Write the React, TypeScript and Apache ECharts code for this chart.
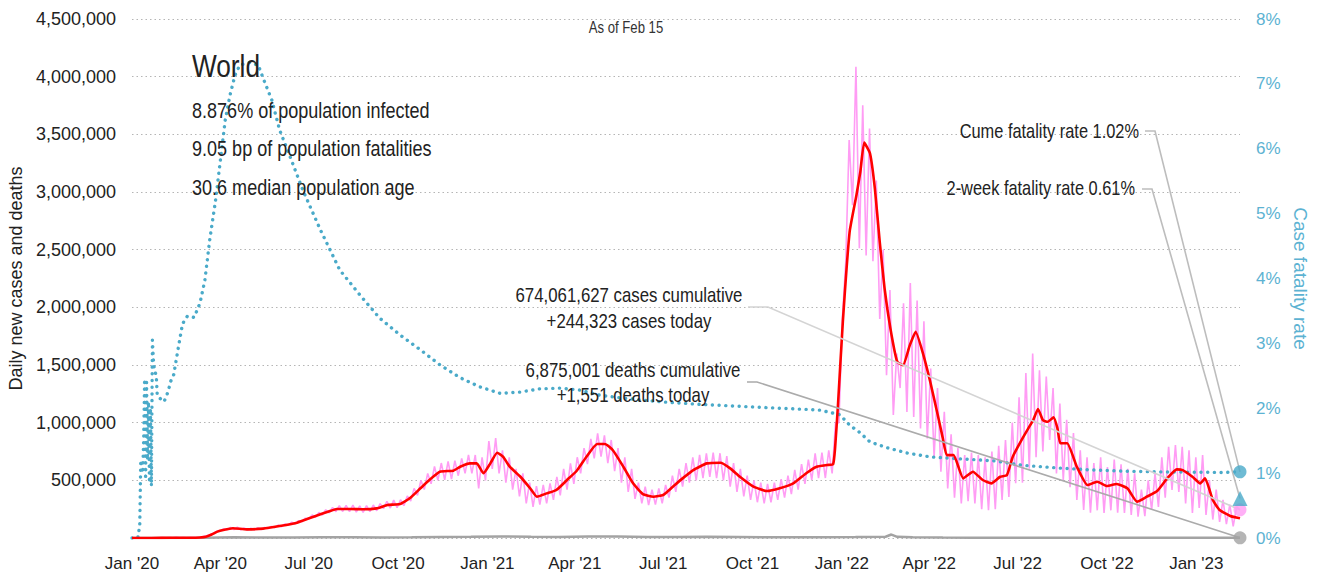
import React, { useEffect, useRef } from "react";
import * as echarts from "echarts";

// ---------- data ----------
const lastDay = 1141; // Feb 15 2023, days since Jan 1 2020
const xTickDays = [0, 91, 182, 274, 366, 456, 547, 639, 731, 821, 912, 1004, 1096];
const xTickLabels = ["Jan '20", "Apr '20", "Jul '20", "Oct '20", "Jan '21", "Apr '21", "Jul '21", "Oct '21", "Jan '22", "Apr '22", "Jul '22", "Oct '22", "Jan '23"];

// 7-day average of new cases (thousands), read at the given days
const avgDays = [0, 20, 40, 60, 70, 76, 82, 88, 94, 104, 118, 135, 152, 170, 187, 204, 211, 225, 238, 252, 263, 276, 286, 297, 307, 317, 331, 338, 348, 355, 362, 369, 376, 382, 389, 400, 410, 417, 427, 437, 448, 458, 468, 479, 487, 495, 506, 516, 526, 537, 547, 557, 567, 578, 592, 606, 616, 626, 640, 654, 667, 681, 695, 705, 716, 722, 724, 727, 732, 739, 746, 750, 754, 760, 765, 770, 775, 781, 788, 794, 801, 807, 815, 822, 829, 835, 839, 846, 856, 866, 876, 885, 894, 901, 907, 916, 923, 928, 933, 938, 943, 949, 953, 956, 963, 973, 984, 994, 1004, 1014, 1025, 1035, 1045, 1056, 1066, 1076, 1082, 1092, 1100, 1105, 1113, 1120, 1131, 1141];
const avgCasesK = [0, 0, 2, 2, 4, 10, 30, 55, 69, 84, 75, 81, 104, 133, 185, 234, 251, 252, 249, 257, 286, 295, 344, 431, 509, 575, 584, 618, 647, 647, 561, 647, 739, 705, 618, 531, 431, 358, 387, 416, 503, 583, 705, 815, 815, 763, 618, 474, 381, 358, 373, 445, 517, 589, 647, 653, 604, 531, 445, 407, 431, 474, 566, 618, 633, 640, 777, 1153, 1874, 2654, 2972, 3174, 3429, 3334, 3030, 2568, 2164, 1817, 1528, 1499, 1672, 1788, 1586, 1355, 1095, 864, 719, 719, 517, 575, 503, 474, 531, 546, 705, 849, 951, 1022, 1118, 1022, 1008, 1046, 951, 821, 821, 618, 459, 488, 451, 468, 431, 315, 358, 410, 517, 595, 589, 531, 474, 517, 329, 243, 191, 171];

// daily new cases (thousands): weekly low (week start) and weekly high (mid-week)
const dailyLowK = [
  0, 0, 0, 1, 2, 2, 2, 1, 1, 3,
  7, 20, 42, 62, 72, 72, 70, 68, 72, 74,
  82, 90, 98, 112, 122, 140, 162, 180, 198, 218,
  228, 230, 228, 225, 222, 228, 236, 255, 260, 262,
  280, 320, 370, 420, 470, 500, 505, 510, 540, 560,
  560, 430, 500, 600, 560, 480, 420, 360, 300, 270,
  290, 300, 330, 370, 420, 470, 560, 640, 690, 705,
  650, 580, 480, 400, 340, 300, 286, 290, 300, 350,
  400, 445, 480, 500, 520, 530, 520, 500, 445, 400,
  360, 330, 310, 300, 310, 330, 350, 380, 420, 470,
  503, 520, 520, 560, 1000, 2390, 2886, 2513, 2450, 2400,
  1900, 1412, 1066, 1300, 1092, 1050, 950, 864, 700, 575,
  430, 350, 300, 320, 300, 250, 240, 250, 330, 355,
  475, 480, 600, 700, 750, 850, 560, 500, 440, 330,
  243, 220, 240, 217, 240, 220, 217, 200, 185, 190,
  243, 270, 350, 416, 400, 300, 217, 260, 200, 160,
  139, 120, 100,
];
const dailyHighK = [
  0, 0, 1, 2, 3, 4, 6, 3, 3, 5,
  13, 30, 60, 80, 92, 95, 88, 85, 90, 92,
  100, 112, 122, 138, 150, 172, 200, 222, 245, 265,
  280, 282, 285, 278, 280, 286, 298, 318, 328, 332,
  365, 430, 500, 560, 620, 650, 665, 670, 690, 720,
  720, 700, 840, 866, 760, 700, 600, 560, 480, 450,
  460, 474, 530, 600, 647, 700, 780, 860, 907, 890,
  850, 780, 700, 600, 480, 445, 420, 430, 460, 540,
  600, 650, 700, 720, 734, 740, 735, 710, 650, 600,
  540, 500, 480, 470, 480, 510, 540, 590, 640, 680,
  734, 740, 760, 1000, 1900, 3450, 4085, 3752, 3550, 3100,
  2500, 2150, 1600, 2035, 2210, 2060, 1880, 1470, 1300, 1095,
  900, 780, 720, 740, 720, 700, 750, 800, 850, 1000,
  1220, 1430, 1600, 1455, 1400, 1300, 1165, 1025, 910, 760,
  700, 650, 700, 615, 680, 640, 600, 560, 420, 500,
  560, 700, 790, 806, 790, 760, 700, 720, 503, 420,
  330, 290, 270,
];

// daily deaths (thousands)
const deathDays = [0, 45, 75, 105, 135, 166, 196, 227, 258, 288, 319, 349, 380, 411, 439, 470, 500, 531, 561, 592, 623, 653, 684, 714, 745, 776, 782, 788, 804, 835, 865, 896, 926, 957, 988, 1018, 1049, 1079, 1110, 1141];
const deathsK = [0, 0.1, 1.5, 6.5, 4.5, 4.5, 5.5, 5.8, 5.3, 6, 9.5, 11.5, 14, 10.5, 9, 12.5, 12, 9, 8.5, 10, 9, 7, 7, 6.8, 8, 10.5, 30, 10, 6, 3.5, 2, 1.5, 2, 2.2, 1.6, 1.4, 1.3, 1.5, 2, 1.5];

// cumulative case fatality rate (%)
const cfrDays = [0, 6, 8, 9, 11, 12, 13, 14, 15, 16, 17, 18, 19, 20, 21, 22, 23, 25, 26, 29, 33, 37, 40, 43, 48, 52, 57, 64, 70, 75, 80, 86, 91, 96, 101, 106, 111, 121, 130, 135, 144, 152, 163, 176, 194, 214, 235, 255, 276, 297, 317, 338, 358, 379, 400, 420, 441, 461, 482, 503, 523, 544, 585, 626, 667, 698, 709, 729, 739, 750, 760, 778, 798, 822, 853, 887, 918, 953, 987, 1021, 1056, 1124, 1141];
const cfrPct = [0, 0, 0.2, 1.2, 1.0, 1.5, 2.45, 0.9, 2.4, 1.2, 2.1, 0.85, 2.0, 0.8, 3.05, 2.75, 2.6, 2.5, 2.2, 2.15, 2.1, 2.25, 2.42, 2.52, 2.96, 3.3, 3.42, 3.4, 3.62, 3.97, 4.59, 5.2, 5.82, 6.44, 6.83, 7.13, 7.29, 7.33, 7.29, 7.09, 6.75, 6.29, 5.87, 5.36, 4.75, 4.13, 3.74, 3.39, 3.13, 2.9, 2.67, 2.47, 2.33, 2.23, 2.25, 2.3, 2.31, 2.28, 2.2, 2.16, 2.13, 2.1, 2.06, 2.03, 2.0, 1.98, 1.97, 1.9, 1.74, 1.62, 1.48, 1.39, 1.31, 1.25, 1.22, 1.19, 1.12, 1.08, 1.05, 1.03, 1.02, 1.01, 1.02];

const todayCases = 244323;
const todayDeaths = 1551;
const cumulativeCases = 674061627;
const cumulativeDeaths = 6875001;
const cumeFatalityRate = 1.02;
const twoWeekFatalityRate = 0.61;
const region = "World";
const infoLines = ["8.876% of population infected", "9.05 bp of population fatalities", "30.6 median population age"];
const asOf = "As of Feb 15";

// ---------- styles ----------
const FONT = "'Liberation Sans', Arial, sans-serif";
const NARROW = 0.82; // horizontal squeeze for free-standing texts
const PINK = "#ff9cf4";
const RED = "#ff0000";
const CYAN = "#4aaac9";
const CYAN_TXT = "#5cb2d2";
const GRAY = "#a3a3a3";
const TEXT = "#222222";

const fmt = (n: number) => n.toLocaleString("en-US");

export default function App() {
  const ref = useRef<HTMLDivElement>(null);

  useEffect(() => {
    document.body.style.margin = "0";
    if (!ref.current) return;
    const chart = echarts.init(ref.current, undefined, { renderer: "svg" });

    const pinkData: [number, number][] = [];
    dailyLowK.forEach((lo, w) => {
      pinkData.push([w * 7, lo * 1000]);
      pinkData.push([w * 7 + 3.5, dailyHighK[w] * 1000]);
    });
    pinkData.push([lastDay, todayCases]);

    const avgData = avgDays.map((d, i) => [d, avgCasesK[i] * 1000]);
    const deathData = deathDays.map((d, i) => [d, deathsK[i] * 1000]);
    const cfrData = cfrDays.map((d, i) => [d, cfrPct[i]]);

    chart.setOption({
      animation: false,
      textStyle: { fontFamily: FONT },
      grid: { left: 132, right: 77, top: 19, bottom: 41, containLabel: false, outerBoundsMode: "none" },
      xAxis: {
        type: "value",
        min: 0,
        max: lastDay,
        axisLine: { show: false },
        axisTick: { show: false },
        splitLine: { show: false },
        axisLabel: {
          customValues: xTickDays,
          formatter: (v: number) => {
            const i = xTickDays.indexOf(Math.round(v));
            return i >= 0 ? xTickLabels[i] : "";
          },
          fontSize: 17,
          color: TEXT,
          margin: 17,
          fontFamily: FONT,
        },
      },
      yAxis: [
        {
          type: "value",
          min: 0,
          max: 4500000,
          interval: 500000,
          position: "left",
          axisLine: { show: false },
          axisTick: { show: false },
          axisLabel: {
            formatter: (v: number) => (v === 0 ? "" : fmt(v)),
            fontSize: 18,
            color: TEXT,
            margin: 16,
            fontFamily: FONT,
          },
          splitLine: { lineStyle: { type: [1.5, 3], color: "#b5b5b5", width: 1 } },
          name: "Daily new cases and deaths",
          nameLocation: "middle",
          nameGap: 102,
          nameTextStyle: { fontSize: 18, color: TEXT, fontFamily: FONT },
        },
        {
          type: "value",
          min: 0,
          max: 8,
          interval: 1,
          position: "right",
          axisLine: { show: false },
          axisTick: { show: false },
          splitLine: { show: false },
          axisLabel: {
            formatter: (v: number) => `${v}%`,
            fontSize: 17,
            color: CYAN_TXT,
            margin: 16,
            fontFamily: FONT,
          },
          name: "Case fatality rate",
          nameLocation: "middle",
          nameRotate: -90,
          nameGap: 46,
          nameTextStyle: { fontSize: 19, color: CYAN_TXT, fontFamily: FONT },
        },
      ],
      series: [
        {
          name: "Daily cases",
          type: "line",
          data: pinkData,
          showSymbol: false,
          symbol: "none",
          lineStyle: { color: PINK, width: 1.6 },
          z: 1,
        },
        {
          name: "Daily deaths",
          type: "line",
          data: deathData,
          showSymbol: false,
          symbol: "none",
          lineStyle: { color: GRAY, width: 2.5 },
          z: 2,
        },
        {
          name: "Case fatality rate",
          type: "line",
          yAxisIndex: 1,
          data: cfrData,
          showSymbol: false,
          symbol: "none",
          lineStyle: { color: CYAN, width: 3.4, type: [0.1, 6.6], cap: "round" },
          z: 3,
        },
        {
          name: "7-day average",
          type: "line",
          data: avgData,
          showSymbol: false,
          symbol: "none",
          smooth: 0.15,
          lineStyle: { color: RED, width: 2.6, join: "round" },
          z: 4,
        },
        {
          name: "Today cases",
          type: "scatter",
          data: [[lastDay, todayCases]],
          symbol: "circle",
          symbolSize: 13,
          itemStyle: { color: PINK },
          z: 7,
        },
        {
          name: "Today deaths",
          type: "scatter",
          data: [[lastDay, todayDeaths]],
          symbol: "circle",
          symbolSize: 13,
          itemStyle: { color: GRAY },
          z: 7,
        },
        {
          name: "Cume CFR",
          type: "scatter",
          yAxisIndex: 1,
          data: [[lastDay, cumeFatalityRate]],
          symbol: "circle",
          symbolSize: 13,
          itemStyle: { color: CYAN },
          z: 7,
        },
        {
          name: "2-week CFR",
          type: "scatter",
          yAxisIndex: 1,
          data: [[lastDay, twoWeekFatalityRate]],
          symbol: "triangle",
          symbolSize: 15,
          itemStyle: { color: CYAN },
          z: 7,
        },
      ],
    });

    const px = (seriesIndex: number, v: number[]) =>
      chart.convertToPixel({ seriesIndex }, v) as number[];
    const pCases = px(4, [lastDay, todayCases]);
    const pDeaths = px(5, [lastDay, todayDeaths]);
    const pCume = px(6, [lastDay, cumeFatalityRate]);
    const pTwo = px(7, [lastDay, twoWeekFatalityRate]);

    const txt = (text: string, x: number, y: number, size: number, align: string, extra: any = {}) => ({
      type: "text",
      x,
      y,
      scaleX: NARROW,
      z: 10,
      style: { text, fill: TEXT, fontSize: size, fontFamily: FONT, align, verticalAlign: "middle", ...extra },
    });
    const leader = (pts: number[][], color: string) => ({
      type: "polyline",
      z: 6,
      shape: { points: pts },
      style: { stroke: color, lineWidth: 1.6, fill: null },
    });

    chart.setOption({
      graphic: [
        txt(asOf, 626, 28, 16, "center", { fill: "#333" }),
        txt(region, 192, 66, 32, "left"),
        txt(infoLines[0], 192, 110, 22, "left"),
        txt(infoLines[1], 192, 148, 22, "left"),
        txt(infoLines[2], 192, 187, 22, "left"),
        txt(`${fmt(cumulativeCases)} cases cumulative`, 629, 295, 20.5, "center"),
        txt(`+${fmt(todayCases)} cases today`, 629, 321, 20.5, "center"),
        txt(`${fmt(cumulativeDeaths)} deaths cumulative`, 633, 370, 20.5, "center"),
        txt(`+${fmt(todayDeaths)} deaths today`, 633, 395, 20.5, "center"),
        txt(`Cume fatality rate ${cumeFatalityRate.toFixed(2)}%`, 1139, 131, 20, "right"),
        txt(`2-week fatality rate ${twoWeekFatalityRate.toFixed(2)}%`, 1135, 188, 20, "right"),
        leader([[748, 307], [768, 307], pCases], "#d4d4d4"),
        leader([[747, 382], [757, 382], pDeaths], "#ababab"),
        leader([[1145, 131], [1155, 131], pCume], "#bdbdbd"),
        leader([[1142, 189], [1152, 189], pTwo], "#bdbdbd"),
      ],
    });

    return () => chart.dispose();
  }, []);

  return <div ref={ref} style={{ width: 1317, height: 579 }} />;
}
